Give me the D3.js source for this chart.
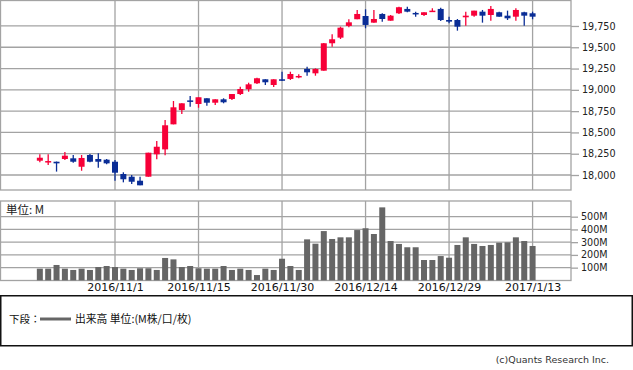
<!DOCTYPE html>
<html>
<head>
<meta charset="utf-8">
<script src="https://cdn.jsdelivr.net/npm/d3@7"></script>
<style>
  html, body { margin: 0; padding: 0; background: #fff; }
  svg { display: block; }
</style>
</head>
<body>
<svg id="chart" width="633" height="370"></svg>
<script>
// ---------------- data ----------------
const dates = ["2016/10/19","2016/10/20","2016/10/21","2016/10/24","2016/10/25","2016/10/26","2016/10/27","2016/10/28","2016/10/31",
  "2016/11/1","2016/11/2","2016/11/3","2016/11/4","2016/11/7","2016/11/8","2016/11/9","2016/11/10","2016/11/11","2016/11/14",
  "2016/11/15","2016/11/16","2016/11/17","2016/11/18","2016/11/21","2016/11/22","2016/11/23","2016/11/25","2016/11/28","2016/11/29",
  "2016/11/30","2016/12/1","2016/12/2","2016/12/5","2016/12/6","2016/12/7","2016/12/8","2016/12/9","2016/12/12","2016/12/13",
  "2016/12/14","2016/12/15","2016/12/16","2016/12/19","2016/12/20","2016/12/21","2016/12/22","2016/12/23","2016/12/27","2016/12/28",
  "2016/12/29","2016/12/30","2017/1/3","2017/1/4","2017/1/5","2017/1/6","2017/1/9","2017/1/10","2017/1/11","2017/1/12","2017/1/13"];
const open  = [18168,18153,18156,18188,18196,18097,18235,18188,18180,18156,18012,17980,17933,17980,18243,18301,18595,18763,18876,18834,
  18901,18849,18889,18893,18951,19007,19077,19124,19057,19124,19128,19148,19245,19194,19225,19547,19613,19750,19829,19867,
  19789,19891,19812,19899,19950,19903,19879,19918,19950,19820,19820,19852,19871,19918,19879,19911,19871,19859,19911,19899];
const high  = [18243,18243,18158,18270,18235,18235,18247,18255,18188,18176,18032,18000,17980,18262,18399,18646,18869,18842,18928,18913,
  18901,18889,18901,18951,19037,19084,19143,19124,19124,19213,19213,19183,19272,19253,19550,19653,19742,19829,19938,19946,
  19938,19899,19879,19977,19977,19918,19911,19958,19965,19859,19832,19918,19930,19938,19985,19918,19930,19958,19918,19918];
const low   = [18149,18117,18040,18176,18144,18050,18149,18086,18125,17933,17914,17894,17879,17980,18184,18231,18595,18716,18802,18790,
  18814,18822,18842,18881,18940,18978,19069,19057,19034,19104,19116,19136,19166,19166,19225,19507,19597,19735,19829,19723,
  19789,19801,19812,19891,19911,19859,19867,19918,19809,19782,19695,19754,19859,19789,19812,19859,19820,19812,19754,19829];
const close = [18203,18164,18137,18227,18156,18200,18156,18156,18137,18027,17950,17921,17879,18262,18332,18584,18795,18842,18865,18913,
  18849,18889,18854,18951,19010,19065,19136,19089,19124,19108,19186,19163,19206,19245,19547,19594,19730,19793,19891,19762,
  19832,19832,19871,19970,19918,19891,19911,19930,19820,19801,19742,19871,19930,19871,19950,19859,19840,19938,19871,19859];
const volume = [92,92,121,92,82,92,82,105,113,105,92,82,95,95,82,176,165,105,113,95,
  92,92,113,82,92,82,42,92,82,170,113,82,322,288,387,325,338,338,395,409,
  364,573,309,286,260,260,160,160,191,178,278,338,286,270,278,296,299,338,309,270];
const dateTicks = ["2016/11/1","2016/11/15","2016/11/30","2016/12/14","2016/12/29","2017/1/13"];
const priceTicks = [18000,18250,18500,18750,19000,19250,19500,19750];
const volumeTicks = [100,200,300,400,500];
const volumeUnitLabel = "単位: M";
const legendPrefix = "下段：";
const legendLabel = "出来高 単位:(M株/口/枚)";
const copyright = "(c)Quants Research Inc.";

// ---------------- layout ----------------
const svg = d3.select("#chart");
const panelRight = 571;
const price = { top: 0.5, bottom: 190 };
const vol = { top: 201, bottom: 280.5 };
const red = "#f70038", blue = "#0a2d96", grid = "#a3a3a3", barColor = "#666666";
const axisFont = "'DejaVu Sans', sans-serif";
const cjkFont = "'Noto Sans CJK JP', sans-serif";

const x = d3.scaleLinear().domain([-4.77, 63.6]).range([0, panelRight]);
const yP = d3.scaleLinear().domain([17824, 20055]).range([price.bottom, 0]);
const yV = d3.scaleLinear().domain([0, 623]).range([vol.bottom - 0.1, vol.top]);
const tickIdx = dateTicks.map(d => dates.indexOf(d));

// ---------- price panel ----------
const gP = svg.append("g");
gP.selectAll("line.hg").data(priceTicks).join("line")
  .attr("x1", 0).attr("x2", panelRight)
  .attr("y1", d => yP(d)).attr("y2", d => yP(d))
  .attr("stroke", grid).attr("stroke-width", 1.3);
gP.selectAll("line.vg").data(tickIdx).join("line")
  .attr("x1", d => x(d)).attr("x2", d => x(d))
  .attr("y1", price.top).attr("y2", price.bottom)
  .attr("stroke", grid).attr("stroke-width", 1.3);
gP.append("rect").attr("x", 0.5).attr("y", price.top)
  .attr("width", panelRight - 0.5).attr("height", price.bottom - price.top)
  .attr("fill", "none").attr("stroke", grid).attr("stroke-width", 1.3);

const pAxis = svg.append("g").attr("transform", `translate(${panelRight},0)`)
  .call(d3.axisRight(yP).tickValues(priceTicks).tickSize(8).tickPadding(3).tickFormat(d3.format(",")));
pAxis.select(".domain").remove();
pAxis.selectAll("line").attr("stroke", grid).attr("stroke-width", 1.3);
pAxis.selectAll("text").attr("font-family", axisFont).attr("font-size", 9.6).attr("fill", "#222");

// candles
const idx = d3.range(dates.length);
const bodyW = 6;
const gC = svg.append("g");
gC.selectAll("line.wick").data(idx).join("line")
  .attr("x1", i => x(i)).attr("x2", i => x(i))
  .attr("y1", i => yP(high[i])).attr("y2", i => yP(low[i]))
  .attr("stroke", i => close[i] >= open[i] ? red : blue).attr("stroke-width", 1.3);
gC.selectAll("rect.body").data(idx).join("rect")
  .attr("x", i => x(i) - bodyW / 2)
  .attr("y", i => yP(Math.max(open[i], close[i])))
  .attr("width", bodyW)
  .attr("height", i => Math.max(1.5, Math.abs(yP(open[i]) - yP(close[i]))))
  .attr("fill", i => close[i] >= open[i] ? red : blue);

// ---------- volume panel ----------
const gV = svg.append("g");
gV.selectAll("line.hg").data(volumeTicks).join("line")
  .attr("x1", 0).attr("x2", panelRight)
  .attr("y1", d => yV(d)).attr("y2", d => yV(d))
  .attr("stroke", grid).attr("stroke-width", 1.3);
gV.selectAll("line.vg").data(tickIdx).join("line")
  .attr("x1", d => x(d)).attr("x2", d => x(d))
  .attr("y1", vol.top).attr("y2", vol.bottom)
  .attr("stroke", grid).attr("stroke-width", 1.3);
gV.append("rect").attr("x", 0.5).attr("y", vol.top)
  .attr("width", panelRight - 0.5).attr("height", vol.bottom - vol.top)
  .attr("fill", "none").attr("stroke", grid).attr("stroke-width", 1.3);

gV.selectAll("rect.bar").data(idx).join("rect")
  .attr("x", i => x(i) - 3).attr("width", 6)
  .attr("y", i => yV(volume[i]))
  .attr("height", i => yV(0) - yV(volume[i]))
  .attr("fill", barColor);

const vAxis = svg.append("g").attr("transform", `translate(${panelRight},0)`)
  .call(d3.axisRight(yV).tickValues(volumeTicks).tickSize(7).tickPadding(3).tickFormat(d => d + "M"));
vAxis.select(".domain").remove();
vAxis.selectAll("line").attr("stroke", grid).attr("stroke-width", 1.3);
vAxis.selectAll("text").attr("font-family", axisFont).attr("font-size", 9.6).attr("fill", "#222");

svg.append("text").attr("x", 6).attr("y", 214)
  .attr("font-family", cjkFont).attr("font-size", 11.5).attr("fill", "#222")
  .text(volumeUnitLabel);

// ---------- x axis ----------
const xAxis = svg.append("g").attr("transform", `translate(0,${vol.bottom})`)
  .call(d3.axisBottom(x).tickValues(tickIdx).tickSize(0).tickPadding(3).tickFormat(i => dates[i]));
xAxis.select(".domain").remove();
xAxis.selectAll("text").attr("font-family", axisFont).attr("font-size", 11).attr("fill", "#111");

// ---------- legend ----------
svg.append("rect").attr("x", 0.75).attr("y", 295.75).attr("width", 631.5).attr("height", 50)
  .attr("fill", "none").attr("stroke", "#111").attr("stroke-width", 1.5);
svg.append("text").attr("x", 9).attr("y", 323)
  .attr("font-family", cjkFont).attr("font-size", 10.5).attr("fill", "#111").text(legendPrefix);
svg.append("line").attr("x1", 40).attr("x2", 71).attr("y1", 319).attr("y2", 319)
  .attr("stroke", barColor).attr("stroke-width", 3);
svg.append("text").attr("x", 75).attr("y", 323)
  .attr("font-family", cjkFont).attr("font-size", 10.8).attr("fill", "#111").text(legendLabel);

svg.append("text").attr("x", 609).attr("y", 363).attr("text-anchor", "end")
  .attr("font-family", axisFont).attr("font-size", 9.5).attr("fill", "#333").text(copyright);
</script>
</body>
</html>
